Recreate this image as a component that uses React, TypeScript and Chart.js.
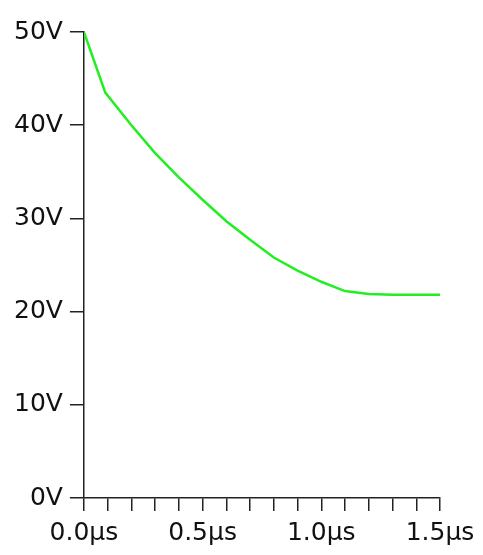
import React, { useEffect, useRef } from "react";
import { Chart, registerables } from "chart.js";

Chart.register(...registerables);

const timesUs = [0, 0.09, 0.2, 0.3, 0.4, 0.5, 0.6, 0.7, 0.8, 0.9, 1.0, 1.1, 1.2, 1.3, 1.5];
const voltages = [50, 43.5, 40.0, 37.0, 34.4, 32.0, 29.7, 27.7, 25.8, 24.4, 23.2, 22.2, 21.9, 21.8, 21.8];
const xLabelTicks = [0, 0.5, 1.0, 1.5];

export default function App() {
  const canvasRef = useRef<HTMLCanvasElement | null>(null);

  useEffect(() => {
    document.body.style.margin = "0";
    const ctx = canvasRef.current;
    if (!ctx) return;
    const font = { family: "'DejaVu Sans', sans-serif", size: 25 };
    const chart = new Chart(ctx, {
      type: "line",
      data: {
        datasets: [
          {
            data: timesUs.map((t, i) => ({ x: t, y: voltages[i] })),
            borderColor: "#22ee22",
            borderWidth: 2.5,
            pointRadius: 0,
            tension: 0,
            fill: false,
          },
        ],
      },
      options: {
        animation: false,
        responsive: false,
        maintainAspectRatio: false,
        layout: { padding: { left: 7, right: 43, top: 32, bottom: 0 } },
        plugins: { legend: { display: false }, tooltip: { enabled: false } },
        scales: {
          x: {
            type: "linear",
            min: 0,
            max: 1.5,
            border: { display: true, color: "#222", width: 1.5 },
            grid: { display: true, drawOnChartArea: false, drawTicks: true, tickLength: 13, color: "#222", lineWidth: 1.5 },
            ticks: {
              stepSize: 0.1,
              autoSkip: false,
              maxRotation: 0,
              padding: 7,
              color: "#111",
              font,
              callback: (v: any) => {
                const n = Math.round(Number(v) * 10) / 10;
                return xLabelTicks.some((t) => Math.abs(t - n) < 1e-6) ? n.toFixed(1) + "µs" : "";
              },
            },
          },
          y: {
            min: 0,
            max: 50,
            border: { display: true, color: "#222", width: 1.5 },
            grid: { display: true, drawOnChartArea: false, drawTicks: true, tickLength: 14, color: "#222", lineWidth: 1.5 },
            ticks: {
              stepSize: 10,
              padding: 7,
              color: "#111",
              font,
              callback: (v: any) => Number(v) + "V",
            },
          },
        },
      },
    });
    return () => chart.destroy();
  }, []);

  return (
    <div style={{ position: "absolute", left: 0, top: 0, width: 483, height: 555, background: "#fff" }}>
      <canvas ref={canvasRef} width={483} height={555} style={{ width: 483, height: 555 }} />
    </div>
  );
}
